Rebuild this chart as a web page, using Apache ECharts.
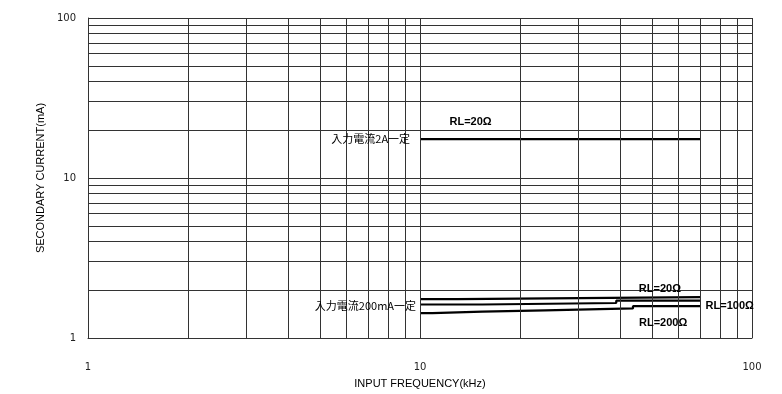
<!DOCTYPE html>
<html>
<head>
<meta charset="utf-8">
<script src="https://cdn.jsdelivr.net/npm/echarts@6/dist/echarts.min.js"></script>
<style>
  html, body { margin: 0; padding: 0; background: #fff; }
  #main { width: 782px; height: 394px; }
</style>
</head>
<body>
<div id="main"></div>
<script>
// grid lines of the log-log paper (each decade: 2..9, 10, 20..90, 100)
var gridValues = [1, 2, 3, 4, 5, 6, 7, 8, 9, 10, 20, 30, 40, 50, 60, 70, 80, 90, 100];

// 入力電流2A一定, RL=20Ω
var freq2A = [10, 70];
var cur2A = [17.5, 17.5];

// 入力電流200mA一定
var freqRL20 = [10, 13, 70];
var curRL20 = [1.75, 1.80, 1.81];
var freqRL100 = [10, 15.4, 39, 70];
var curRL100 = [1.62, 1.655, 1.71, 1.72];
var freqRL200 = [10, 10.9, 15.4, 23.8, 43.8, 70];
var curRL200 = [1.43, 1.46, 1.49, 1.53, 1.58, 1.58];

var textFont = 'Liberation Sans, Arial, sans-serif';
var cjkFont = 'Noto Sans CJK JP, sans-serif';

function pairs(xs, ys) {
    return xs.map(function (x, i) { return [x, ys[i]]; });
}

// 注記ラベル
function note(x, y, text, pos, bold, font) {
    return {
        coord: [x, y],
        symbol: 'circle',
        symbolSize: 0,
        label: {
            show: true,
            formatter: text,
            position: pos,
            distance: 4,
            color: '#000',
            fontSize: 11,
            fontWeight: bold ? 'bold' : 'normal',
            fontFamily: font
        }
    };
}

var myChart = echarts.init(document.getElementById('main'));

var lineStyleData = { color: '#000', width: 2.2 };

option = {
    backgroundColor: '#fff',
    animation: false,
    grid: { left: 88, right: 30, top: 18, bottom: 56, outerBoundsMode: 'none' },
    xAxis: {
        type: 'log',
        logBase: 10,
        min: 1,
        max: 100,
        name: 'INPUT FREQUENCY(kHz)',
        nameLocation: 'middle',
        nameGap: 40,
        nameTextStyle: { color: '#000', fontSize: 11, fontFamily: textFont },
        axisLine: { show: true, lineStyle: { color: '#333', width: 1 } },
        axisTick: { show: false },
        splitLine: { show: false },
        axisLabel: { color: '#222', fontSize: 10, margin: 24, fontFamily: 'DejaVu Sans, sans-serif' }
    },
    yAxis: {
        type: 'log',
        logBase: 10,
        min: 1,
        max: 100,
        name: 'SECONDARY CURRENT(mA)',
        nameLocation: 'middle',
        nameGap: 42,
        nameTextStyle: { color: '#000', fontSize: 11, fontFamily: textFont },
        axisLine: { show: true, lineStyle: { color: '#333', width: 1 } },
        axisTick: { show: false },
        splitLine: { show: false },
        axisLabel: { color: '#222', fontSize: 10, margin: 12, fontFamily: 'DejaVu Sans, sans-serif' }
    },
    series: [
        {
            // 方眼
            type: 'line',
            data: [],
            silent: true,
            markLine: {
                silent: true,
                symbol: ['none', 'none'],
                label: { show: false },
                lineStyle: { color: '#333', width: 1, type: 'solid' },
                data: gridValues.map(function (v) { return { xAxis: v }; })
                    .concat(gridValues.map(function (v) { return { yAxis: v }; }))
            }
        },
        {
            name: '2A RL=20',
            type: 'line',
            symbol: 'none',
            lineStyle: lineStyleData,
            data: pairs(freq2A, cur2A),
            markPoint: {
                data: [
                    note(9.6, 17.5, '入力電流2A一定', 'left', false, cjkFont),
                    note(14.2, 22.4, 'RL=20Ω', 'inside', true, textFont)
                ]
            }
        },
        {
            name: '200mA RL=20',
            type: 'line',
            symbol: 'none',
            step: 'end',
            lineStyle: lineStyleData,
            data: pairs(freqRL20, curRL20),
            markPoint: {
                data: [
                    note(52.8, 2.02, 'RL=20Ω', 'inside', true, textFont)
                ]
            }
        },
        {
            name: '200mA RL=100',
            type: 'line',
            symbol: 'none',
            step: 'end',
            lineStyle: lineStyleData,
            data: pairs(freqRL100, curRL100),
            markPoint: {
                data: [
                    note(10, 1.58, '入力電流200mA一定', 'left', false, cjkFont),
                    note(70.5, 1.585, 'RL=100Ω', 'right', true, textFont)
                ]
            }
        },
        {
            name: '200mA RL=200',
            type: 'line',
            symbol: 'none',
            step: 'end',
            lineStyle: lineStyleData,
            data: pairs(freqRL200, curRL200),
            markPoint: {
                data: [
                    note(54, 1.24, 'RL=200Ω', 'inside', true, textFont)
                ]
            }
        }
    ]
};
myChart.setOption(option);
</script>
</body>
</html>
